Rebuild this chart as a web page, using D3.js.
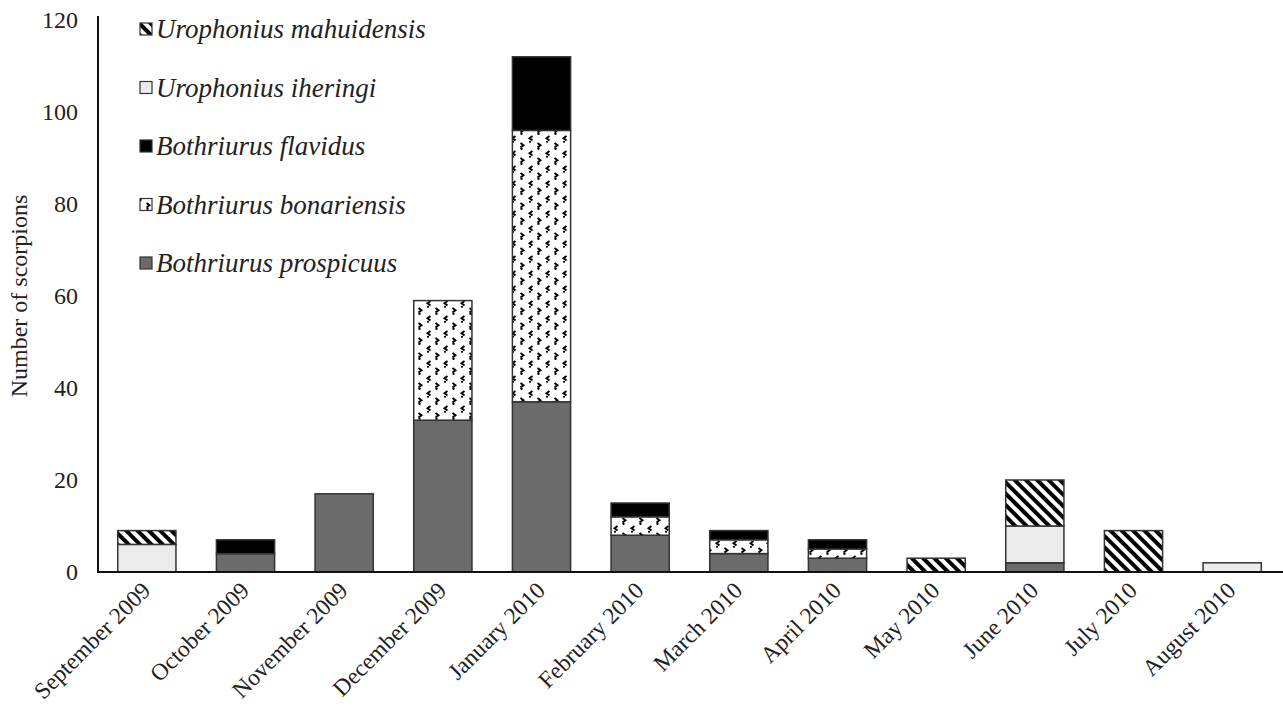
<!DOCTYPE html>
<html>
<head>
<meta charset="utf-8">
<script src="https://cdn.jsdelivr.net/npm/d3@7"></script>
<style>
  body { margin: 0; background: #fff; }
  svg { font-family: "Liberation Serif", "DejaVu Serif", serif; }
</style>
</head>
<body>
<div id="chart"></div>
<script>
// months on the x axis
const months = ["September 2009","October 2009","November 2009","December 2009","January 2010","February 2010",
  "March 2010","April 2010","May 2010","June 2010","July 2010","August 2010"];

// counts per species, one value per month
const prospicuus  = [0, 4, 17, 33, 37, 8, 4, 3, 0, 2, 0, 0];
const bonariensis = [0, 0, 0, 26, 59, 4, 3, 2, 0, 0, 0, 0];
const flavidus    = [0, 3, 0, 0, 16, 3, 2, 2, 0, 0, 0, 0];
const iheringi    = [6, 0, 0, 0, 0, 0, 0, 0, 0, 8, 0, 2];
const mahuidensis = [3, 0, 0, 0, 0, 0, 0, 0, 3, 10, 9, 0];

const species = ["Bothriurus prospicuus","Bothriurus bonariensis","Bothriurus flavidus","Urophonius iheringi","Urophonius mahuidensis"];
const seriesVals = [prospicuus, bonariensis, flavidus, iheringi, mahuidensis];
const yTicks = [0, 20, 40, 60, 80, 100, 120];

const fills = ["#6b6b6b", "url(#dots)", "#000", "#ebebeb", "url(#stripes)"];

const width = 1283, height = 713;
const margin = {left: 98, right: 2, top: 20, bottom: 141};

const svg = d3.select("#chart").append("svg")
  .attr("width", width).attr("height", height);

// patterns
const defs = svg.append("defs");
const stripes = defs.append("pattern")
  .attr("id", "stripes").attr("patternUnits", "userSpaceOnUse")
  .attr("width", 8).attr("height", 8)
  .attr("patternTransform", "rotate(-45)");
stripes.append("rect").attr("width", 8).attr("height", 8).attr("fill", "#fff");
stripes.append("rect").attr("width", 4).attr("height", 8).attr("fill", "#000");

const dots = defs.append("pattern")
  .attr("id", "dots").attr("patternUnits", "userSpaceOnUse")
  .attr("width", 17).attr("height", 15);
dots.append("rect").attr("width", 17).attr("height", 15).attr("fill", "#fff");
dots.append("path").attr("d", "M5.5,1 L2.5,3.2 L5.5,5.5").attr("stroke", "#000").attr("stroke-width", 1.9).attr("fill", "none");
dots.append("path").attr("d", "M10.5,8 L13.5,10.2 L10.5,12.5").attr("stroke", "#000").attr("stroke-width", 1.9).attr("fill", "none");
dots.append("circle").attr("cx", 11.5).attr("cy", 13.8).attr("r", 1.2).attr("fill", "#000");
dots.append("circle").attr("cx", 3).attr("cy", 6.8).attr("r", 1.1).attr("fill", "#000");

const x = d3.scaleBand().domain(months)
  .range([margin.left, width - margin.right]).paddingInner(0.41).paddingOuter(0.2);
const y = d3.scaleLinear().domain([0, 120]).range([height - margin.bottom, margin.top]);

// stacked data
const table = months.map((m, i) => {
  const row = {month: m};
  species.forEach((s, j) => row[s] = seriesVals[j][i]);
  return row;
});
const stacked = d3.stack().keys(species)(table);

stacked.forEach((layer, j) => {
  svg.append("g").selectAll("rect")
    .data(layer.filter(d => d[1] - d[0] > 0))
    .join("rect")
    .attr("x", d => x(d.data.month))
    .attr("y", d => y(d[1]))
    .attr("width", x.bandwidth())
    .attr("height", d => y(d[0]) - y(d[1]))
    .attr("fill", fills[j])
    .attr("stroke", "#333")
    .attr("stroke-width", 1.5);
});

// y axis
const yAxis = svg.append("g")
  .attr("transform", `translate(${margin.left},0)`)
  .call(d3.axisLeft(y).tickValues(yTicks).tickSize(0).tickPadding(20));
yAxis.select(".domain").remove();
yAxis.selectAll("text").attr("font-size", 24).attr("fill", "#222")
  .attr("font-family", "Liberation Serif");
svg.append("line")
  .attr("x1", margin.left).attr("x2", margin.left)
  .attr("y1", 16).attr("y2", y(0))
  .attr("stroke", "#111").attr("stroke-width", 2);

// x axis
svg.append("line")
  .attr("x1", margin.left - 1).attr("x2", width)
  .attr("y1", y(0)).attr("y2", y(0))
  .attr("stroke", "#111").attr("stroke-width", 2);

svg.append("g").selectAll("text")
  .data(months).join("text")
  .attr("transform", d => `translate(${x(d) + x.bandwidth() / 2 + 5},${y(0) + 20}) rotate(-45)`)
  .attr("text-anchor", "end")
  .attr("font-size", 23.5)
  .attr("fill", "#222")
  .text(d => d);

// y title
svg.append("text")
  .attr("transform", `translate(27,${(y(0) + y(120)) / 2}) rotate(-90)`)
  .attr("text-anchor", "middle")
  .attr("font-size", 24)
  .attr("fill", "#222")
  .text("Number of scorpions");

// legend (top entry = last series)
const legend = svg.append("g");
const legendOrder = species.map((s, j) => j).reverse();
legendOrder.forEach((j, k) => {
  const ly = 29 + k * 58.5;
  legend.append("rect")
    .attr("x", 140).attr("y", ly - 6).attr("width", 12).attr("height", 12)
    .attr("fill", fills[j]).attr("stroke", "#333").attr("stroke-width", 1.2);
  legend.append("text")
    .attr("x", 156).attr("y", ly + 9)
    .attr("font-size", 27)
    .attr("font-style", "italic")
    .attr("fill", "#222")
    .text(species[j]);
});
</script>
</body>
</html>
